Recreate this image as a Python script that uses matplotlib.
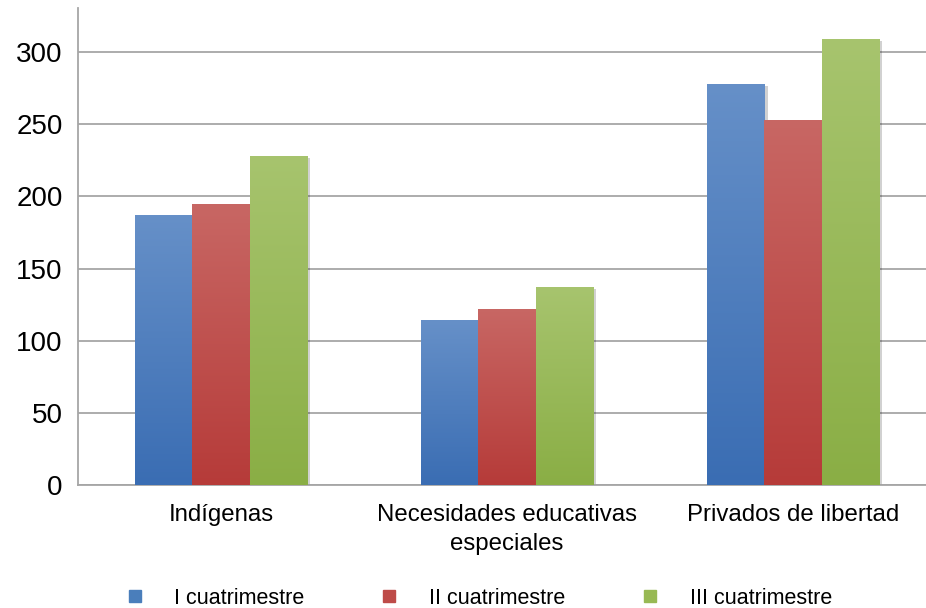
import matplotlib
matplotlib.use("Agg")
import matplotlib.pyplot as plt
import numpy as np
from matplotlib.colors import LinearSegmentedColormap
from matplotlib.lines import Line2D
import matplotlib.patheffects as pe

categories = ["Indígenas", "Necesidades educativas\nespeciales", "Privados de libertad"]
series_names = ["I cuatrimestre", "II cuatrimestre", "III cuatrimestre"]
s1 = [187, 114, 278]
s2 = [195, 122, 253]
s3 = [228, 137, 309]
yticks = [0, 50, 100, 150, 200, 250, 300]

plt.rcParams['font.family'] = ['Liberation Sans', 'DejaVu Sans']

tops = ["#6690c8", "#c86764", "#a7c46e"]
bottoms = ["#3a6db3", "#b63b39", "#8aae45"]
legend_cols = ["#4a7ebb", "#be4b48", "#98b954"]

fig = plt.figure(figsize=(9.26, 6.08), dpi=100)
ax = fig.add_axes([78/926, (608-485)/608, (936-78)/926, (485-8)/608])

x = np.arange(len(categories))
w = 0.2
ymax = 330.5
for i, vals in enumerate([s1, s2, s3]):
    bars = ax.bar(x + (i - 1) * w, vals, width=w, color=bottoms[i], zorder=2,
                  linewidth=0,
                  path_effects=[pe.SimplePatchShadow(offset=(2.5, -1.5), shadow_rgbFace='#000000', alpha=0.18),
                                pe.Normal()])
    cmap = LinearSegmentedColormap.from_list(f"g{i}", [bottoms[i], tops[i]])
    grad = np.linspace(1, 0, 256).reshape(-1, 1)
    for b in bars:
        bx, by = b.get_x(), b.get_y()
        bw, bh = b.get_width(), b.get_height()
        im = ax.imshow(grad, extent=[bx, bx + bw, by, by + bh], aspect='auto',
                       cmap=cmap, zorder=3, interpolation='bilinear')
        im.set_clip_path(b)

ax.set_xlim(-0.5, 2.5)
ax.set_ylim(0, ymax)
ax.set_yticks(yticks)
ax.set_yticklabels([str(t) for t in yticks], fontsize=20)
ax.set_xticks(x)
ax.set_xticklabels(categories, fontsize=17.3, linespacing=1.4)
ax.tick_params(axis='both', length=0)
ax.tick_params(axis='y', pad=11)
ax.tick_params(axis='x', pad=14)
ax.grid(axis='y', color='#a6a6a6', linewidth=1.3, zorder=1)
ax.set_axisbelow(True)
for s in ['top', 'right']:
    ax.spines[s].set_visible(False)
for s in ['left', 'bottom']:
    ax.spines[s].set_color('#a6a6a6')
    ax.spines[s].set_linewidth(1.3)

handles = [Line2D([], [], marker='s', linestyle='none', markersize=8,
                  markerfacecolor=c, markeredgecolor=c) for c in legend_cols]
leg = fig.legend(handles, series_names, loc='center', bbox_to_anchor=(478/926, 1 - 598/608),
                 ncol=3, frameon=False, fontsize=15.5, handlelength=1.0,
                 handletextpad=1.34, columnspacing=3.45, borderpad=0)

fig.savefig("out.png", dpi=100)
